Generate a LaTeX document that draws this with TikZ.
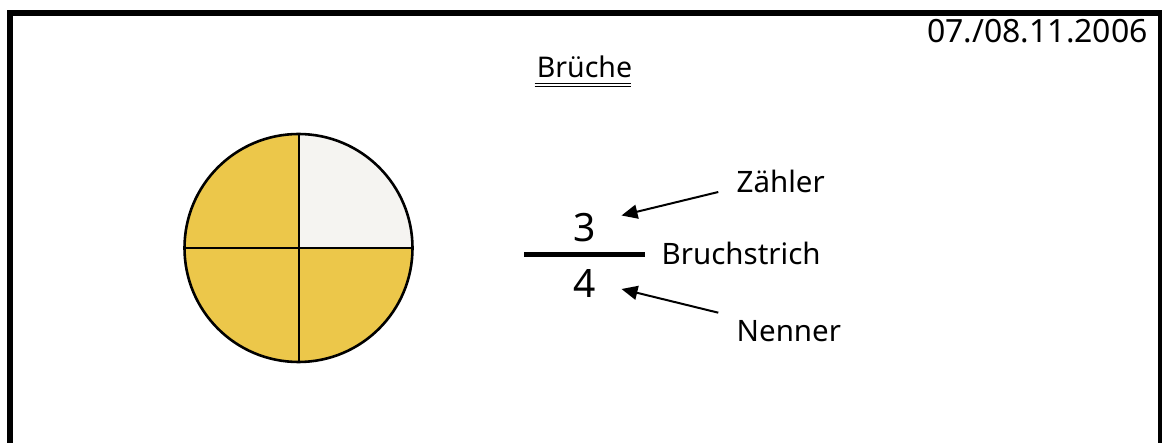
\documentclass[tikz,border=0pt]{standalone}
\usepackage{fontspec}
\setmainfont{Noto Sans}
\usetikzlibrary{arrows.meta}
\definecolor{pieyellow}{RGB}{236,199,74}
\definecolor{pieblank}{RGB}{245,244,241}
\tikzset{
  frame/.style={line width=5.7pt, line join=miter},
  lbl/.style={inner sep=0pt, font=\fontsize{29.5}{34}\selectfont},
  digit/.style={inner sep=0pt, font=\fontsize{39}{45}\selectfont},
  pointer/.style={line width=2pt, -{Triangle[length=16pt,width=14pt]}},
  piecut/.style={line width=2pt},
  rim/.style={line width=2.6pt},
}
\begin{document}
\begin{tikzpicture}[x=1pt,y=-1pt]
\useasboundingbox (0,0) rectangle (1162,443);
\fill[white] (0,0) rectangle (1162,443);

% page frame (right and bottom edge run off the sheet)
\begin{scope}
  \clip (0,0) rectangle (1162,443);
  \draw[frame] (10,12.9) rectangle (1160.6,470);
\end{scope}

% date and title
\node[inner sep=0pt, font=\fontsize{32}{38}\selectfont, anchor=base east] (date) at (1148,43) {07./08.11.2006};
\node[inner sep=0pt, font=\fontsize{28.5}{33}\selectfont, anchor=base] (title) at (584.5,78) {Brüche};
\draw[line width=1.3pt] (title.base west) ++(-2,5.3) -- ++(96,0);
\draw[line width=1.3pt] (title.base west) ++(-2,8.7) -- ++(96,0);

% circle split into quarters, three of them coloured
\coordinate (c) at (298.5,248);
\fill[pieyellow] (c) circle[radius=114];
\fill[pieblank] (c) -- ++(114,0) arc[start angle=0, end angle=-90, radius=114] -- cycle;
\draw[piecut] (c) ++(-114,0) -- ++(228,0);
\draw[piecut] (c) ++(0,-114) -- ++(0,228);
\draw[rim] (c) circle[radius=114];

% the fraction 3/4
\node[digit, anchor=base] (num) at (585,241.5) {3};
\node[digit, anchor=base] (den) at (585,298) {4};
\coordinate (barL) at (524,254.5);
\coordinate (barR) at (645,254.5);
\draw[line width=5.6pt] (barL) -- (barR);

% labels with pointers
\node[lbl, anchor=base west] (zaehler) at (736.5,193) {Zähler};
\node[lbl, anchor=base west] (strich) at (661.5,265) {Bruchstrich};
\node[lbl, anchor=base west] (nenner) at (736.5,341.5) {Nenner};

\coordinate (zTail) at (718.3,192);
\coordinate (zTip) at (621.5,215.5);
\coordinate (nTail) at (718.3,312.7);
\coordinate (nTip) at (621.5,289);
\draw[pointer] (zTail) -- (zTip);
\draw[pointer] (nTail) -- (nTip);
\end{tikzpicture}
\end{document}
